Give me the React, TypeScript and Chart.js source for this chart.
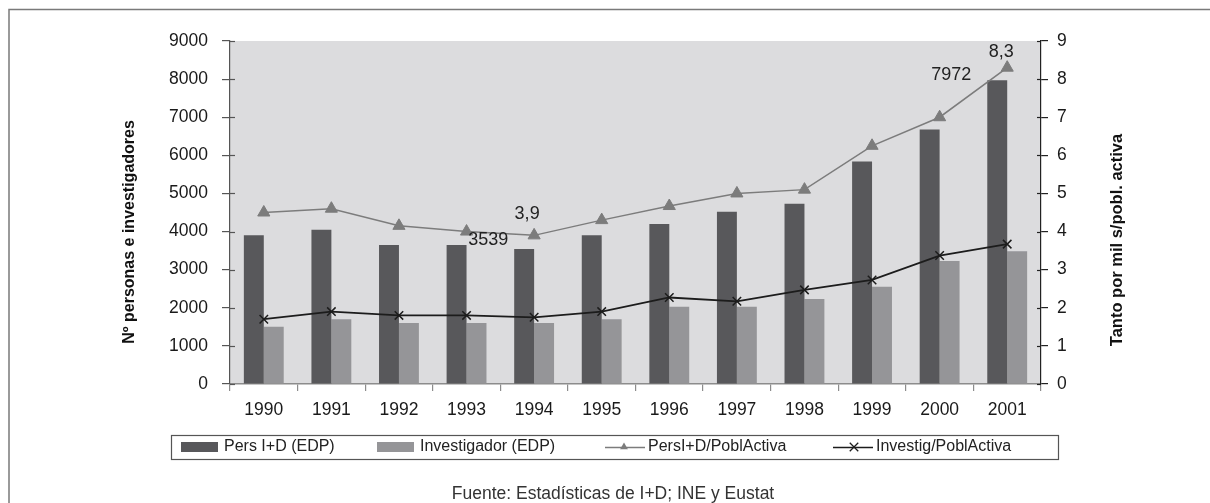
import { useEffect, useRef } from 'react';
import { Chart, registerables } from 'chart.js';

Chart.register(...registerables);

// Categories and series
const years = ['1990', '1991', '1992', '1993', '1994', '1995', '1996', '1997', '1998', '1999', '2000', '2001'];
const persID = [3900, 4050, 3650, 3650, 3539, 3900, 4200, 4520, 4730, 5840, 6680, 7972];
const investigador = [1500, 1700, 1600, 1600, 1600, 1700, 2030, 2030, 2230, 2550, 3230, 3480];
const persIDRatio = [4.5, 4.6, 4.15, 4.0, 3.9, 4.3, 4.67, 5.0, 5.1, 6.25, 7.0, 8.3];
const investigRatio = [1.7, 1.9, 1.8, 1.8, 1.75, 1.9, 2.27, 2.17, 2.47, 2.73, 3.37, 3.67];

const seriesLabels = ['Pers I+D (EDP)', 'Investigador (EDP)', 'PersI+D/PoblActiva', 'Investig/PoblActiva'];
const leftTitle = 'Nº personas e investigadores';
const rightTitle = 'Tanto por mil s/pobl. activa';
const sourceText = 'Fuente: Estadísticas de I+D; INE y Eustat';

const FONT = '"Liberation Sans", Arial, sans-serif';
const DARK = '#58585b';
const LIGHT = '#959598';
const TRI = '#7c7c7c';
const CROSS = '#1c1c1c';
const PLOT_BG = '#dcdcde';

// Values written next to selected marks: dataset index, point index, offset
const valueLabels = [
  { dataset: 0, index: 4, dx: -36, dy: -9 },
  { dataset: 2, index: 4, dx: -7, dy: -21 },
  { dataset: 0, index: 11, dx: -46, dy: -5 },
  { dataset: 2, index: 11, dx: -6, dy: -16 },
];

const formatValue = (v: number) => String(v).replace('.', ',');

function drawTriangle(ctx: CanvasRenderingContext2D, x: number, y: number, r: number) {
  ctx.beginPath();
  ctx.moveTo(x, y - r);
  ctx.lineTo(x + r * 0.866, y + r * 0.5);
  ctx.lineTo(x - r * 0.866, y + r * 0.5);
  ctx.closePath();
  ctx.fill();
}

function drawCross(ctx: CanvasRenderingContext2D, x: number, y: number, r: number) {
  const d = r * 0.707;
  ctx.beginPath();
  ctx.moveTo(x - d, y - d);
  ctx.lineTo(x + d, y + d);
  ctx.moveTo(x - d, y + d);
  ctx.lineTo(x + d, y - d);
  ctx.stroke();
}

const decorPlugin = {
  id: 'decor',
  beforeDraw(chart: any) {
    const { ctx, chartArea: a } = chart;
    ctx.save();
    ctx.fillStyle = PLOT_BG;
    ctx.fillRect(a.left, a.top, a.right - a.left, a.bottom - a.top);
    // outer frame (top and left edges)
    ctx.strokeStyle = '#7a7a7a';
    ctx.lineWidth = 1.5;
    ctx.beginPath();
    ctx.moveTo(9, chart.height);
    ctx.lineTo(9, 9.5);
    ctx.lineTo(chart.width, 9.5);
    ctx.stroke();
    ctx.restore();
  },
  afterDraw(chart: any) {
    const { ctx, chartArea: a } = chart;
    ctx.save();

    // inner halves of the y tick marks
    const yl = chart.scales.y;
    const yr = chart.scales.y1;
    ctx.lineWidth = 1.2;
    ctx.strokeStyle = '#555';
    yl.ticks.forEach((_t: any, i: number) => {
      const py = Math.round(yl.getPixelForTick(i)) + 0.5;
      ctx.beginPath();
      ctx.moveTo(a.left, py);
      ctx.lineTo(a.left + 5, py);
      ctx.stroke();
    });
    ctx.strokeStyle = '#222';
    yr.ticks.forEach((_t: any, i: number) => {
      const py = Math.round(yr.getPixelForTick(i)) + 0.5;
      ctx.beginPath();
      ctx.moveTo(a.right - 4, py);
      ctx.lineTo(a.right, py);
      ctx.stroke();
    });

    // value labels
    ctx.fillStyle = '#222';
    ctx.font = `18px ${FONT}`;
    ctx.textAlign = 'center';
    ctx.textBaseline = 'middle';
    valueLabels.forEach((l) => {
      const el = chart.getDatasetMeta(l.dataset).data[l.index];
      const v = chart.data.datasets[l.dataset].data[l.index] as number;
      ctx.fillText(formatValue(v), el.x + l.dx, el.y + l.dy);
    });

    // axis titles
    ctx.fillStyle = '#111';
    ctx.font = `bold 16px ${FONT}`;
    ctx.save();
    ctx.translate(130, 232);
    ctx.rotate(-Math.PI / 2);
    ctx.fillText(leftTitle, 0, 0);
    ctx.restore();
    ctx.font = `bold 16.5px ${FONT}`;
    ctx.save();
    ctx.translate(1117, 240);
    ctx.rotate(-Math.PI / 2);
    ctx.fillText(rightTitle, 0, 0);
    ctx.restore();

    // legend
    const box = { left: 171, top: 435, right: 1058, bottom: 459 };
    const itemX = [181, 377, 605, 833];
    const midY = 447;
    ctx.strokeStyle = '#555';
    ctx.lineWidth = 1.2;
    ctx.strokeRect(box.left + 0.5, box.top + 0.5, box.right - box.left, box.bottom - box.top);
    ctx.font = `16px ${FONT}`;
    ctx.textAlign = 'left';
    ctx.textBaseline = 'middle';
    chart.data.datasets.forEach((ds: any, i: number) => {
      const x = itemX[i];
      if (ds.type === 'bar') {
        ctx.fillStyle = ds.backgroundColor;
        ctx.fillRect(x, midY - 5, 37, 10);
        ctx.fillStyle = '#222';
        ctx.fillText(ds.label, x + 43, midY);
      } else {
        ctx.strokeStyle = ds.borderColor;
        ctx.fillStyle = ds.borderColor;
        ctx.lineWidth = 1.3;
        ctx.beginPath();
        ctx.moveTo(x, midY + 0.5);
        ctx.lineTo(x + 40, midY + 0.5);
        ctx.stroke();
        if (ds.pointStyle === 'triangle') {
          drawTriangle(ctx, x + 19, midY, 4.5);
        } else {
          ctx.lineWidth = 1.3;
          drawCross(ctx, x + 21, midY, 6);
        }
        ctx.fillStyle = '#222';
        ctx.fillText(ds.label, x + 43, midY);
      }
    });

    // source note
    ctx.fillStyle = '#333';
    ctx.font = `17.5px ${FONT}`;
    ctx.textAlign = 'center';
    ctx.fillText(sourceText, 613, 494);

    ctx.restore();
  },
};

export default function App() {
  const canvasRef = useRef<HTMLCanvasElement | null>(null);

  useEffect(() => {
    const canvas = canvasRef.current;
    if (!canvas) return;
    const tickFont = { family: FONT, size: 17.5 };
    const plain = (v: any) => String(v);
    const chart = new Chart(canvas, {
      type: 'bar',
      data: {
        labels: years,
        datasets: [
          {
            type: 'bar',
            label: seriesLabels[0],
            data: persID,
            backgroundColor: DARK,
            yAxisID: 'y',
            order: 2,
            categoryPercentage: 0.59,
            barPercentage: 1,
          },
          {
            type: 'bar',
            label: seriesLabels[1],
            data: investigador,
            backgroundColor: LIGHT,
            yAxisID: 'y',
            order: 2,
            categoryPercentage: 0.59,
            barPercentage: 1,
          },
          {
            type: 'line',
            label: seriesLabels[2],
            data: persIDRatio,
            yAxisID: 'y1',
            borderColor: TRI,
            backgroundColor: TRI,
            borderWidth: 1.5,
            pointStyle: 'triangle',
            pointRadius: 7,
            pointBackgroundColor: TRI,
            pointBorderColor: TRI,
            pointBorderWidth: 1,
            tension: 0,
            order: 1,
          },
          {
            type: 'line',
            label: seriesLabels[3],
            data: investigRatio,
            yAxisID: 'y1',
            borderColor: CROSS,
            backgroundColor: CROSS,
            borderWidth: 1.8,
            pointStyle: 'crossRot',
            pointRadius: 6,
            pointBorderColor: CROSS,
            pointBorderWidth: 1.5,
            tension: 0,
            order: 0,
          },
        ] as any,
      },
      options: {
        animation: false,
        responsive: false,
        maintainAspectRatio: false,
        layout: { padding: { left: 0, right: 0, top: 41, bottom: 79 } },
        plugins: {
          legend: { display: false },
          tooltip: { enabled: false },
        },
        scales: {
          x: {
            grid: { drawOnChartArea: false, tickLength: 7, color: '#8c8c8c', offset: true, lineWidth: 1.2 },
            border: { color: '#8c8c8c', width: 1.5 },
            ticks: { font: tickFont, color: '#1a1a1a', padding: 9, maxRotation: 0, autoSkip: false },
            afterFit: (s: any) => {
              s.height = 40;
            },
          },
          y: {
            position: 'left',
            min: 0,
            max: 9000,
            grid: { drawOnChartArea: false, tickLength: 8, color: '#555', lineWidth: 1.2 },
            border: { color: '#555', width: 1.2 },
            ticks: { stepSize: 1000, font: tickFont, color: '#1a1a1a', padding: 14, callback: plain },
            afterFit: (s: any) => {
              s.width = 230;
            },
          },
          y1: {
            position: 'right',
            min: 0,
            max: 9,
            grid: { drawOnChartArea: false, tickLength: 7, color: '#222', lineWidth: 1.2 },
            border: { color: '#222', width: 1.2 },
            ticks: { stepSize: 1, font: tickFont, color: '#1a1a1a', padding: 9, callback: plain },
            afterFit: (s: any) => {
              s.width = 169;
            },
          },
        },
      } as any,
      plugins: [decorPlugin],
    });
    return () => chart.destroy();
  }, []);

  return (
    <div style={{ position: 'absolute', left: 0, top: 0, width: 1210, height: 503, background: '#fff' }}>
      <canvas ref={canvasRef} width={1210} height={503} style={{ display: 'block', width: 1210, height: 503 }} />
    </div>
  );
}
